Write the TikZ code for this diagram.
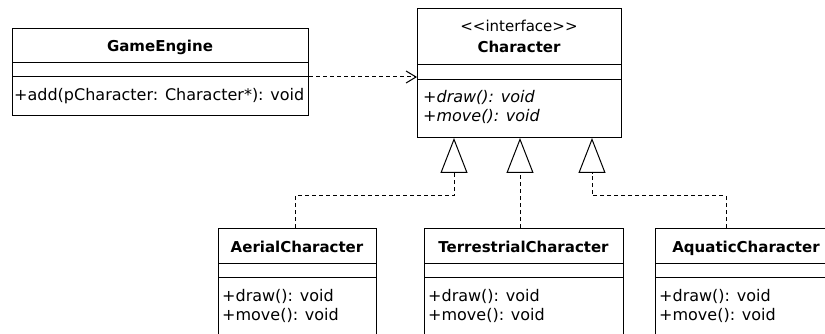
\documentclass[tikz,border=0pt]{standalone}
\usepackage{fontspec}
\setmainfont{DejaVu Sans}
\usetikzlibrary{arrows.meta}
\tikzset{
  cls/.style={draw, line width=1pt, inner sep=0pt, fill=white, anchor=north west},
  ttl/.style={font=\fontsize{15}{18}\selectfont\bfseries, inner sep=0pt, anchor=base},
  ster/.style={font=\fontsize{15}{18}\selectfont, inner sep=0pt, anchor=base},
  opr/.style={font=\fontsize{16}{19}\selectfont, inner sep=0pt, anchor=base west},
  opi/.style={font=\fontsize{16}{19}\selectfont\itshape, inner sep=0pt, anchor=base west},
  divl/.style={line width=1pt},
  real/.style={line width=1pt, dash pattern=on 4pt off 3pt,
    -{Triangle[open, length=35pt, width=27pt, line width=1pt]}},
  dep/.style={line width=1pt, dash pattern=on 4pt off 3pt,
    -{Straight Barb[length=10pt, width=12pt, line width=1pt]}}
}
\begin{document}
\begin{tikzpicture}[x=1pt, y=-1pt]
\useasboundingbox (0,0) rectangle (825,334);
\clip (0,0) rectangle (825,334);
% GameEngine
\node[cls, minimum width=296pt, minimum height=87pt] (ge) at (12,28) {};
\draw[divl] (ge.west |- 0,63) -- (ge.east |- 0,63);
\draw[divl] (ge.west |- 0,77) -- (ge.east |- 0,77);
\node[ttl] (getitle) at (160,52) {GameEngine};
\node[opr] (geop) at (14,101) {+add(pCharacter: Character*): void};
% Character
\node[cls, minimum width=204pt, minimum height=129pt] (ch) at (417,8) {};
\draw[divl] (ch.west |- 0,65) -- (ch.east |- 0,65);
\draw[divl] (ch.west |- 0,80) -- (ch.east |- 0,80);
\node[ster] (chster) at (519,32) {{<}{<}interface{>}{>}};
\node[ttl] (chtitle) at (519,53) {Character};
\node[opi] (chop1) at (423,103) {+draw(): void};
\node[opi] (chop2) at (423,122) {+move(): void};
% AerialCharacter
\node[cls, minimum width=158pt, minimum height=130pt] (ae) at (218,228) {};
\draw[divl] (ae.west |- 0,263) -- (ae.east |- 0,263);
\draw[divl] (ae.west |- 0,277) -- (ae.east |- 0,277);
\node[ttl] (aetitle) at (297,252) {AerialCharacter};
\node[opr] (aeop1) at (222,301) {+draw(): void};
\node[opr] (aeop2) at (222,320) {+move(): void};
% TerrestrialCharacter
\node[cls, minimum width=199pt, minimum height=130pt] (te) at (424,228) {};
\draw[divl] (te.west |- 0,263) -- (te.east |- 0,263);
\draw[divl] (te.west |- 0,277) -- (te.east |- 0,277);
\node[ttl] (tetitle) at (523.5,252) {TerrestrialCharacter};
\node[opr] (teop1) at (428,301) {+draw(): void};
\node[opr] (teop2) at (428,320) {+move(): void};
% AquaticCharacter
\node[cls, minimum width=182pt, minimum height=130pt] (aq) at (655,228) {};
\draw[divl] (aq.west |- 0,263) -- (aq.east |- 0,263);
\draw[divl] (aq.west |- 0,277) -- (aq.east |- 0,277);
\node[ttl] (aqtitle) at (746,252) {AquaticCharacter};
\node[opr] (aqop1) at (659,301) {+draw(): void};
\node[opr] (aqop2) at (659,320) {+move(): void};
% connectors
\draw[dep] (ge.east |- 0,77) -- (ch.west |- 0,77);
\draw[real] (ae.north -| 295,0) |- (454,196) -- (ch.south -| 454,0);
\draw[real] (te.north -| 520,0) -- (ch.south -| 520,0);
\draw[real] (aq.north -| 726,0) |- (592,196) -- (ch.south -| 592,0);
\end{tikzpicture}
\end{document}
